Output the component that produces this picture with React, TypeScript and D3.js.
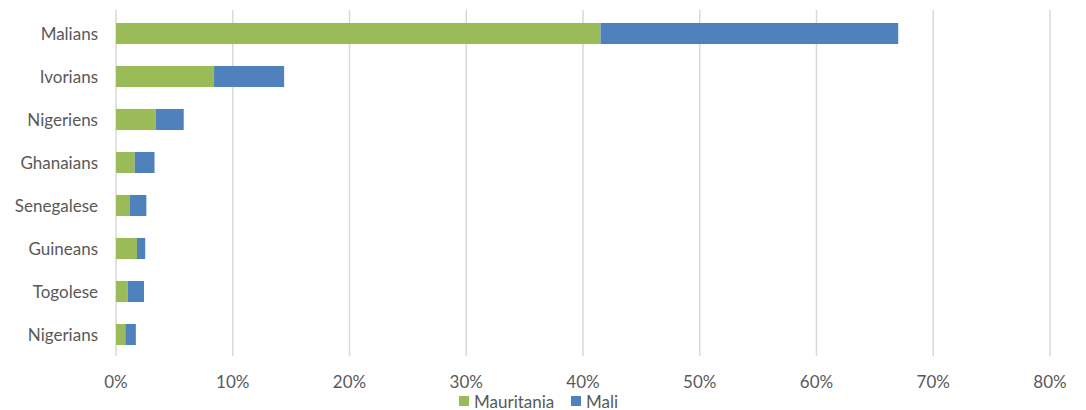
import React from "react";
import * as d3 from "d3";

const categories = ["Malians", "Ivorians", "Nigeriens", "Ghanaians", "Senegalese", "Guineans", "Togolese", "Nigerians"];
const mauritania = [41.5, 8.4, 3.4, 1.6, 1.2, 1.8, 1.0, 0.8];
const mali = [25.5, 6.0, 2.4, 1.7, 1.4, 0.7, 1.4, 0.9];
const seriesNames = ["Mauritania", "Mali"];
const xTicks = [0, 10, 20, 30, 40, 50, 60, 70, 80];

const W = 1086;
const H = 410;
const margin = { left: 116, right: 36, top: 12, bottom: 54 };
const colors = ["#9BBB59", "#4F81BD"];
const textColor = "#595959";
const font = "Lato, 'Open Sans', sans-serif";

export default function App() {
  const x = d3.scaleLinear().domain([0, 80]).range([margin.left, W - margin.right]);
  const y = d3.scaleBand<string>().domain(categories).range([margin.top, H - margin.bottom]).paddingInner(0.51).paddingOuter(0.255);
  const rows = categories.map((c, i) => ({ c, m: mauritania[i], l: mali[i] }));
  const stack = d3.stack<any>().keys(["m", "l"])(rows as any);
  const plotBottom = H - margin.bottom;

  return (
    <svg width={W} height={H} style={{ position: "absolute", left: 0, top: 0, background: "#fff" }} fontFamily={font}>
      {xTicks.map((t) => (
        <g key={t}>
          <line x1={x(t)} x2={x(t)} y1={margin.top - 2} y2={plotBottom} stroke="#D9D9D9" strokeWidth={1.5} />
          <text x={x(t)} y={381} textAnchor="middle" dominantBaseline="central" fontSize={17} fill={textColor}>
            {t}%
          </text>
        </g>
      ))}
      {stack.map((s, si) =>
        s.map((d, i) => (
          <rect
            key={si + "-" + i}
            x={x(d[0])}
            y={y(categories[i])}
            width={x(d[1]) - x(d[0])}
            height={y.bandwidth()}
            fill={colors[si]}
          />
        ))
      )}
      {categories.map((c) => (
        <text key={c} x={98} y={(y(c) || 0) + y.bandwidth() / 2} textAnchor="end" dominantBaseline="central" fontSize={17} fill={textColor}>
          {c}
        </text>
      ))}
      <g>
        <rect x={459} y={396} width={10} height={10} fill={colors[0]} />
        <text x={474} y={401} dominantBaseline="central" fontSize={17} fill={textColor}>{seriesNames[0]}</text>
        <rect x={571} y={396} width={10} height={10} fill={colors[1]} />
        <text x={586} y={401} dominantBaseline="central" fontSize={17} fill={textColor}>{seriesNames[1]}</text>
      </g>
    </svg>
  );
}
